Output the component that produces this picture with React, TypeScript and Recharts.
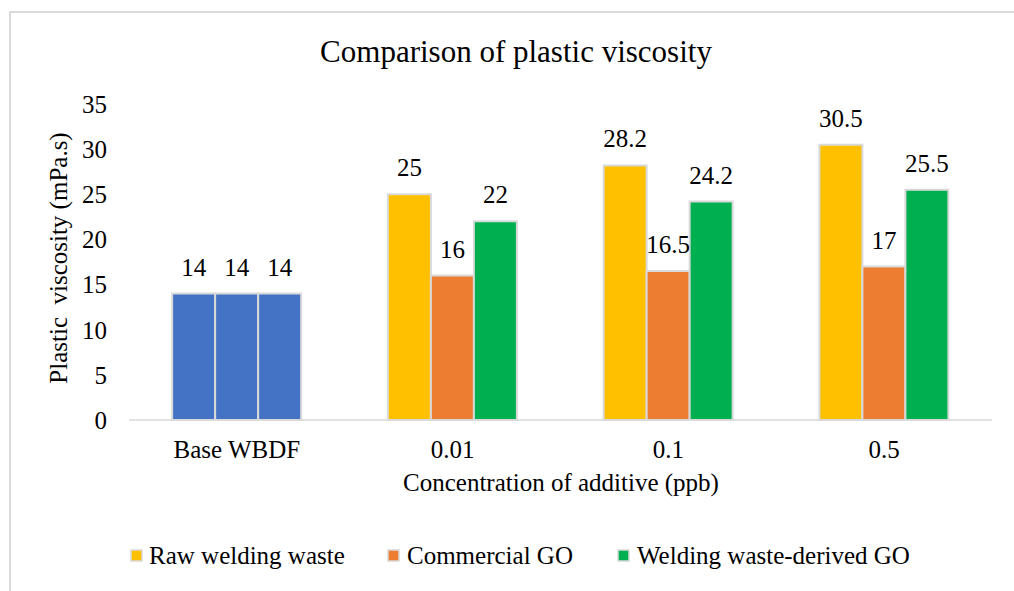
import React from 'react';
import { BarChart, Bar, XAxis, YAxis, Cell, LabelList } from 'recharts';

const categories = ['Base WBDF', '0.01', '0.1', '0.5'];
const rawWaste = [14, 25, 28.2, 30.5];
const commercialGO = [14, 16, 16.5, 17];
const derivedGO = [14, 22, 24.2, 25.5];
const yTicks = [0, 5, 10, 15, 20, 25, 30, 35];

const seriesNames = ['Raw welding waste', 'Commercial GO', 'Welding waste-derived GO'];
const seriesColors = ['#FFC000', '#ED7D31', '#00B050'];
const baseColor = '#4472C4';

const data = categories.map((name, i) => ({
  name,
  raw: rawWaste[i],
  commercial: commercialGO[i],
  derived: derivedGO[i],
}));

const FONT = '"Times New Roman", "Liberation Serif", Tinos, "DejaVu Serif", serif';
const W = 1014;
const H = 591;

// legend entries: square x, text x
const legendItems = [
  { sq: 131, tx: 149 },
  { sq: 388, tx: 407 },
  { sq: 618, tx: 637 },
];

const tickStyle = { fill: '#000', fontSize: 25, style: { fontFamily: FONT } };

const App = () => {
  const keys = ['raw', 'commercial', 'derived'];
  return (
    <div style={{ position: 'fixed', left: 0, top: 0, width: W, height: H, overflow: 'hidden', background: '#fff', fontFamily: FONT }}>
      <div
        style={{
          position: 'absolute', left: 9, top: 11, width: 1100, height: 700,
          borderLeft: '2px solid #d9d9d9', borderTop: '2px solid #d9d9d9',
        }}
      />
      <div style={{ position: 'absolute', left: 0, top: 0 }}>
        <BarChart
          width={W}
          height={H}
          data={data}
          margin={{ top: 104, right: 22, left: 69, bottom: 141 }}
          barCategoryGap="20%"
          barGap={0}
          style={{ fontFamily: FONT }}
        >
          <XAxis
            dataKey="name"
            axisLine={{ stroke: '#d9d9d9', strokeWidth: 1.5 }}
            tickLine={false}
            tickSize={0}
            tickMargin={20}
            tick={tickStyle}
          />
          <YAxis
            domain={[0, 35]}
            ticks={yTicks}
            interval={0}
            axisLine={false}
            tickLine={false}
            tickSize={0}
            tickMargin={22}
            width={60}
            tick={tickStyle}
          />
          {keys.map((k, si) => (
            <Bar key={k} dataKey={k} fill={seriesColors[si]} stroke="#d9d9d9" strokeWidth={2} isAnimationActive={false}>
              {data.map((d, i) => (
                <Cell key={d.name} fill={i === 0 ? baseColor : seriesColors[si]} />
              ))}
              <LabelList dataKey={k} position="top" offset={18} fill="#000" fontSize={25} style={{ fontFamily: FONT }} />
            </Bar>
          ))}
        </BarChart>
      </div>
      <svg width={W} height={H} style={{ position: 'absolute', left: 0, top: 0, pointerEvents: 'none', fontFamily: FONT }}>
        <text x={516} y={62} textAnchor="middle" fontSize={31} fill="#000">
          Comparison of plastic viscosity
        </text>
        <text x={67} y={258} textAnchor="middle" fontSize={25} fill="#000" transform="rotate(-90 67 258)" style={{ whiteSpace: 'pre' }}>
          {'Plastic  viscosity (mPa.s)'}
        </text>
        <text x={561} y={491} textAnchor="middle" fontSize={25} fill="#000">
          Concentration of additive (ppb)
        </text>
        {legendItems.map((it, i) => (
          <g key={seriesNames[i]}>
            <rect x={it.sq} y={550} width={11} height={11} fill={seriesColors[i]} stroke="#d9d9d9" strokeWidth={1.5} />
            <text x={it.tx} y={564} fontSize={25} fill="#000">{seriesNames[i]}</text>
          </g>
        ))}
      </svg>
    </div>
  );
};

export default App;
